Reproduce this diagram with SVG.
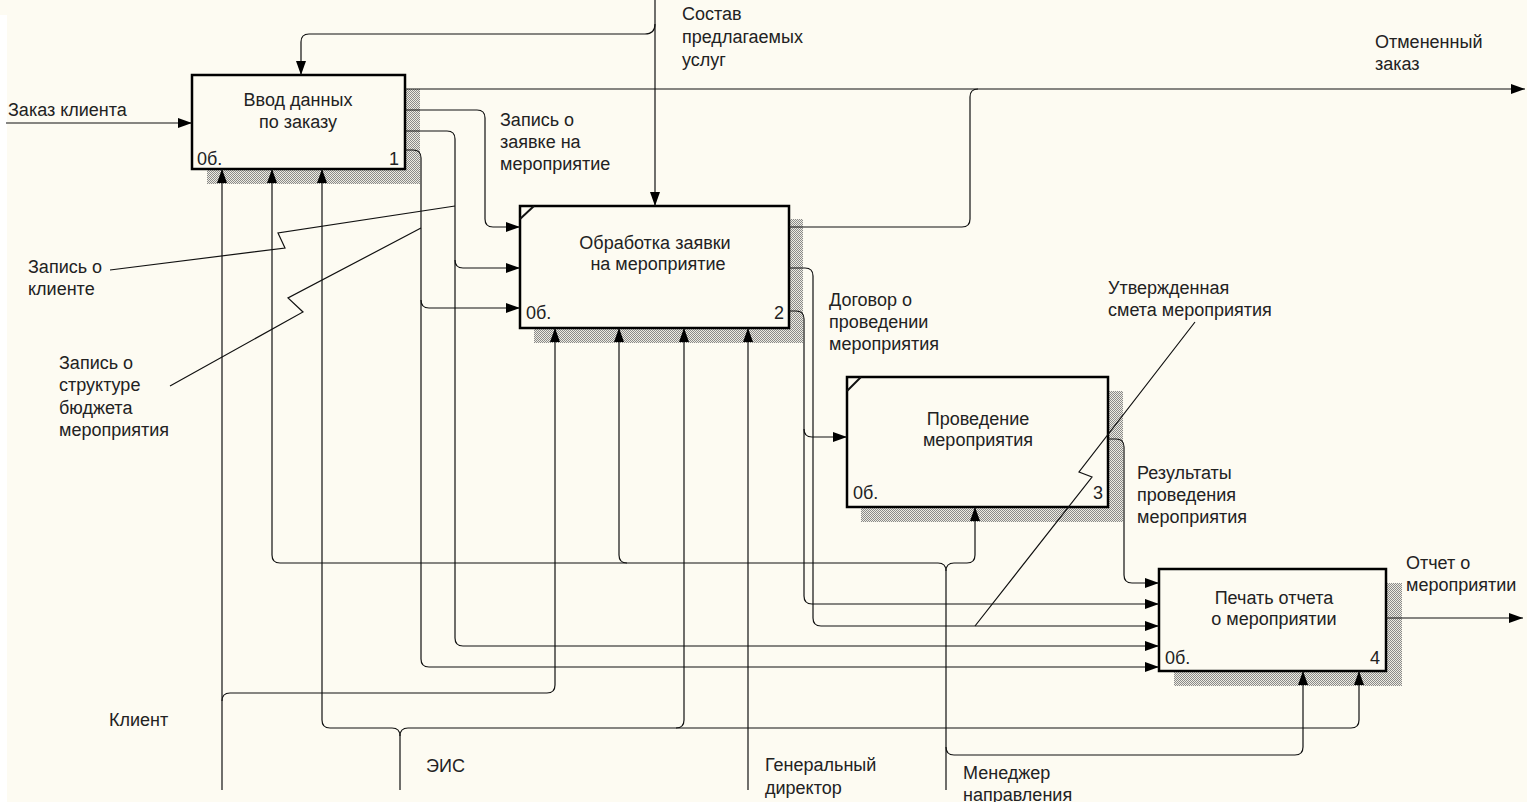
<svg xmlns="http://www.w3.org/2000/svg" width="1527" height="802" viewBox="0 0 1527 802">
<style>
.bg{fill:#FDFBF2}
.box{fill:#FDFBF2;stroke:#000;stroke-width:2.5}
.shadow{fill:url(#hatch)}
.ln{fill:none;stroke:#111;stroke-width:1.2}
.arr{marker-end:url(#ah)}
text{font-family:"Liberation Sans",Arial,sans-serif;font-size:18px;fill:#222}
.t{text-anchor:middle}
.n{text-anchor:end}
</style>
<defs>
<pattern id="hatch" width="2" height="2" patternUnits="userSpaceOnUse">
<rect width="2" height="2" fill="#eeece2"/>
<rect width="1" height="1" fill="#8a8a8a"/>
<rect x="1" y="1" width="1" height="1" fill="#8a8a8a"/>
</pattern>
<marker id="ah" markerUnits="userSpaceOnUse" markerWidth="14" markerHeight="10" refX="14" refY="5" orient="auto">
<path d="M0,0 L14,5 L0,10 z" fill="#000"/>
</marker>
</defs>
<rect class="bg" x="0" y="0" width="1527" height="802"/>
<rect x="0" y="15" width="7" height="787" fill="#fff"/>

<g id="node1">
<rect class="shadow" x="207" y="89" width="213" height="95"/>
<rect class="box" x="192" y="75" width="213" height="94"/>
<text class="t" x="298" y="106">Ввод данных</text>
<text class="t" x="298" y="128">по заказу</text>
<text x="197" y="165">0б.</text>
<text class="n" x="399" y="165">1</text>
</g>

<g id="node2">
<rect class="shadow" x="534" y="219" width="269" height="124"/>
<rect class="box" x="520" y="206" width="269" height="122"/>
<path class="ln" d="M520,219 L534,206" style="stroke-width:2"/>
<text class="t" x="655" y="249">Обработка заявки</text>
<text class="t" x="658" y="270">на мероприятие</text>
<text x="526" y="319">0б.</text>
<text class="n" x="784" y="319">2</text>
</g>

<g id="node3">
<rect class="shadow" x="861" y="391" width="262" height="131"/>
<rect class="box" x="847" y="377" width="261" height="130"/>
<path class="ln" d="M847,391 L861,377" style="stroke-width:2"/>
<text class="t" x="978" y="425">Проведение</text>
<text class="t" x="978" y="446">мероприятия</text>
<text x="853" y="499">0б.</text>
<text class="n" x="1103" y="499">3</text>
</g>

<g id="node4">
<rect class="shadow" x="1174" y="583" width="228" height="103"/>
<rect class="box" x="1159" y="569" width="227" height="102"/>
<text class="t" x="1274" y="604">Печать отчета</text>
<text class="t" x="1274" y="625">о мероприятии</text>
<text x="1165" y="664">0б.</text>
<text class="n" x="1380" y="664">4</text>
</g>

<g id="connectors">
<path class="ln arr" d="M6,123 H192"/>
<path class="ln arr" d="M655,0 V206"/>
<path class="ln arr" d="M655,24 Q655,34 645,34 H309 Q301,34 301,42 V75"/>
<path class="ln arr" d="M405,89 H1525"/>
<path class="ln" d="M789,227 H962 Q970,227 970,219 V97 Q970,89 978,89"/>
<path class="ln arr" d="M405,110 H477 Q485,110 485,118 V219 Q485,227 493,227 H520"/>
<path class="ln arr" d="M405,131 H447 Q455,131 455,139 V638 Q455,646 463,646 H1159"/>
<path class="ln arr" d="M455,260 Q455,268 463,268 H520"/>
<path class="ln arr" d="M405,150 H413 Q421,150 421,158 V659 Q421,667 429,667 H1159"/>
<path class="ln arr" d="M421,300 Q421,308 429,308 H520"/>
<path class="ln arr" d="M789,268 H805 Q813,268 813,276 V618 Q813,626 821,626 H1159"/>
<path class="ln arr" d="M789,311 H796 Q804,311 804,319 V596 Q804,604 812,604 H1159"/>
<path class="ln arr" d="M804,429 Q804,437 812,437 H847"/>
<path class="ln arr" d="M1108,439 H1116 Q1124,439 1124,447 V575 Q1124,583 1132,583 H1159"/>
<path class="ln arr" d="M1386,618 H1523"/>
<path class="ln arr" d="M222,790 V169"/>
<path class="ln arr" d="M222,701 Q222,693 230,693 H547 Q555,693 555,685 V328"/>
<path class="ln arr" d="M400,790 V736 Q400,728 392,728 H330 Q322,728 322,720 V169"/>
<path class="ln arr" d="M400,736 Q400,728 408,728 H1351 Q1359,728 1359,720 V671"/>
<path class="ln arr" d="M676,728 Q684,728 684,720 V328"/>
<path class="ln arr" d="M748,790 V328"/>
<path class="ln arr" d="M946,790 V571 Q946,563 938,563 H280 Q272,563 272,555 V169"/>
<path class="ln arr" d="M946,571 Q946,563 954,563 H967 Q975,563 975,555 V507"/>
<path class="ln arr" d="M627,563 Q619,563 619,555 V328"/>
<path class="ln arr" d="M946,747 Q946,755 954,755 H1295 Q1303,755 1303,747 V671"/>
<path class="ln" d="M110,270 L285,248 L278,233 L455,206"/>
<path class="ln" d="M170,386 L303,312 L288,298 L421,228"/>
<path class="ln" d="M1195,322 L1079,472 L1092,477 L975,626"/>
</g>

<g id="labels">
<text x="8" y="116">Заказ клиента</text>
<text x="682" y="20">Состав</text>
<text x="682" y="43">предлагаемых</text>
<text x="682" y="66">услуг</text>
<text x="1375" y="48">Отмененный</text>
<text x="1375" y="70">заказ</text>
<text x="500" y="126">Запись о</text>
<text x="500" y="148">заявке на</text>
<text x="500" y="170">мероприятие</text>
<text x="28" y="273">Запись о</text>
<text x="28" y="295">клиенте</text>
<text x="59" y="369">Запись о</text>
<text x="59" y="391">структуре</text>
<text x="59" y="414">бюджета</text>
<text x="59" y="436">мероприятия</text>
<text x="829" y="306">Договор о</text>
<text x="829" y="328">проведении</text>
<text x="829" y="350">мероприятия</text>
<text x="1108" y="294">Утвержденная</text>
<text x="1108" y="316">смета мероприятия</text>
<text x="1137" y="479">Результаты</text>
<text x="1137" y="501">проведения</text>
<text x="1137" y="523">мероприятия</text>
<text x="1406" y="569">Отчет о</text>
<text x="1406" y="591">мероприятии</text>
<text x="109" y="726">Клиент</text>
<text x="426" y="772">ЭИС</text>
<text x="765" y="771">Генеральный</text>
<text x="765" y="794">директор</text>
<text x="963" y="779">Менеджер</text>
<text x="963" y="801">направления</text>
</g>
</svg>
